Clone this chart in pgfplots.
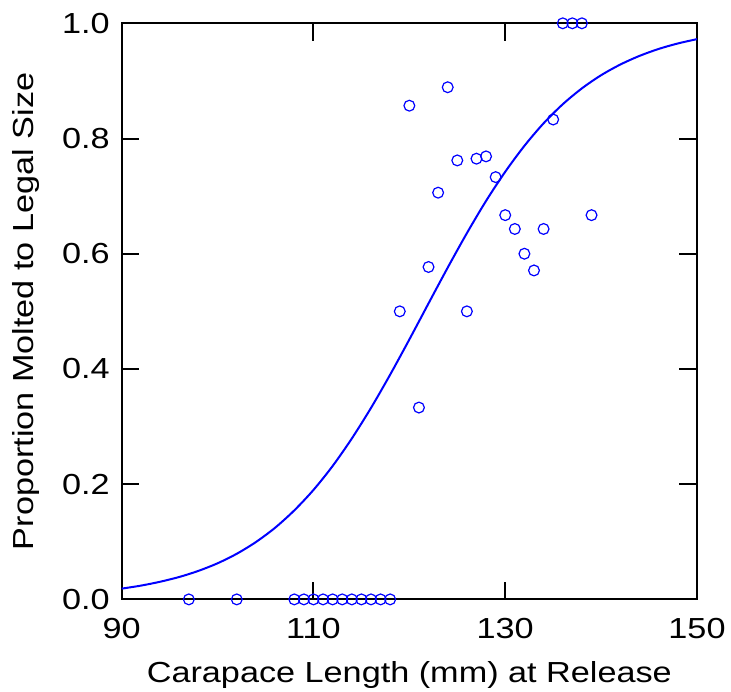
\documentclass[border=0pt]{standalone}
\usepackage{fontspec}
\setmainfont{Liberation Sans}[FakeStretch=1.18]
\usepackage{pgfplots}
\pgfplotsset{compat=1.18}
\begin{document}
\fontsize{14.5}{17}\selectfont
\begin{tikzpicture}
\begin{axis}[
  name=ax,
  scale only axis,
  width=287.6pt, height=288pt,
  xmin=90, xmax=150, ymin=0, ymax=1,
  xtick={90,110,130,150},
  ytick={0,0.2,0.4,0.6,0.8,1.0},
  minor tick num=0,
  tick pos=both,
  tick align=inside,
  major tick length=8.85pt,
  axis line style={line width=1pt},
  every tick/.style={black, line width=1pt},
  /pgf/number format/assume math mode=true,
  /pgf/number format/.cd, fixed, fixed zerofill, precision=1, /pgfplots/.cd,
  tick label style={font=\fontsize{14.5}{17}\selectfont},
  xticklabel={\pgfmathprintnumber[fixed,precision=0,fixed zerofill=false]{\tick}},
  xticklabel style={yshift=-4.5pt},
  yticklabel style={xshift=-1pt},
  label style={font=\fontsize{14.5}{17}\selectfont},
  xlabel={Carapace Length (mm) at Release},
  ylabel={Proportion Molted to Legal Size},
  xlabel style={at={(axis description cs:0.5,0)}, anchor=base, yshift=-41.3pt},
  ylabel style={at={([xshift=-44.3pt]axis description cs:0,0.5)}, anchor=base},
  clip=false,
]
\addplot[color=blue, line width=1pt, smooth] coordinates {
(90,0.0187) (92,0.0239) (94,0.0306) (96,0.0389) (98,0.0495) (100,0.0627)
(102,0.0792) (104,0.0996) (106,0.1244) (108,0.1545) (110,0.1900) (112,0.2316)
(114,0.2793) (116,0.3324) (118,0.3902) (120,0.4512) (122,0.5138) (124,0.5759)
(126,0.6357) (128,0.6917) (130,0.7423) (132,0.7873) (134,0.8264) (136,0.8595)
(138,0.8871) (140,0.9099) (142,0.9284) (144,0.9434) (146,0.9555) (148,0.9650)
(150,0.9725)
};
\addplot[only marks, mark=o, mark size=2.7pt, color=blue, mark options={line width=0.6pt}] coordinates {
(97,0) (102,0) (108,0) (109,0) (110,0) (111,0) (112,0) (113,0) (114,0) (115,0)
(116,0) (117,0) (118,0)
(119,0.5) (120,0.857) (121,0.333) (122,0.577) (123,0.706) (124,0.889)
(125,0.762) (126,0.5) (127,0.765) (128,0.769) (129,0.733) (130,0.667)
(131,0.643) (132,0.6) (133,0.571) (134,0.643) (135,0.833) (136,1) (137,1)
(138,1) (139,0.667)
};
\end{axis}
\pgfresetboundingbox
\path ([xshift=-60.85pt,yshift=-45.85pt]ax.south west) rectangle ([xshift=17pt,yshift=11.65pt]ax.north east);
\end{tikzpicture}
\end{document}
